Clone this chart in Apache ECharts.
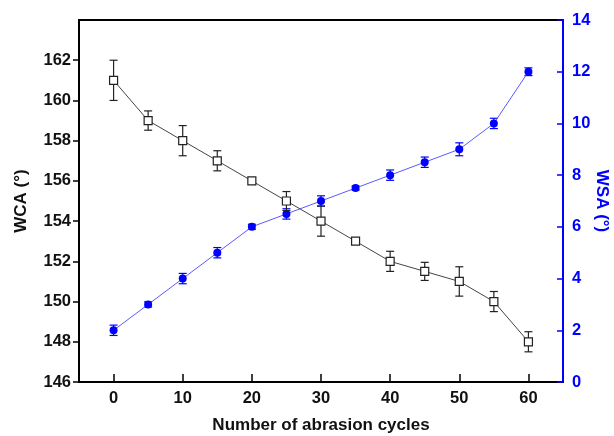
<!DOCTYPE html>
<html><head><meta charset="utf-8">
<script src="https://cdn.jsdelivr.net/npm/echarts@6/dist/echarts.min.js"></script>
<style>html,body{margin:0;padding:0;background:#fff}#c{width:614px;height:436px}</style>
</head><body><div id="c"></div>
<script>
const cycles = [0, 5, 10, 15, 20, 25, 30, 35, 40, 45, 50, 55, 60];
const wca = [161, 159, 158, 157, 156, 155, 154, 153, 152, 151.5, 151, 150, 148];
const wcaErr = [1, 0.48, 0.75, 0.5, 0.05, 0.47, 0.75, 0.05, 0.5, 0.45, 0.73, 0.5, 0.5];
const wsa = [2, 3, 4, 5, 6, 6.5, 7, 7.5, 8, 8.5, 9, 10, 12];
const wsaErr = [0.2, 0.1, 0.2, 0.2, 0.1, 0.2, 0.2, 0.08, 0.2, 0.2, 0.25, 0.2, 0.15];
const xTicks = [0, 10, 20, 30, 40, 50, 60];

const FONT = 'Liberation Sans';
const chart = echarts.init(document.getElementById('c'));

function errRender(color) {
  return function (params, api) {
    const x = api.value(0);
    const lo = api.coord([x, api.value(1)]);
    const hi = api.coord([x, api.value(2)]);
    const w = 4;
    const st = { stroke: color, lineWidth: 1.2 };
    return {
      type: 'group',
      children: [
        { type: 'line', shape: { x1: lo[0], y1: lo[1], x2: hi[0], y2: hi[1] }, style: st },
        { type: 'line', shape: { x1: lo[0] - w, y1: lo[1], x2: lo[0] + w, y2: lo[1] }, style: st },
        { type: 'line', shape: { x1: hi[0] - w, y1: hi[1], x2: hi[0] + w, y2: hi[1] }, style: st }
      ]
    };
  };
}

chart.setOption({
  animation: false,
  grid: { left: 79, right: 51, top: 20, bottom: 54, containLabel: false, outerBoundsMode: 'none', show: true, borderColor: '#000', borderWidth: 2, backgroundColor: 'transparent' },
  xAxis: {
    type: 'value', min: -5, max: 65,
    name: 'Number of abrasion cycles', nameLocation: 'middle', nameGap: 35, nameMoveOverlap: false,
    nameTextStyle: { fontFamily: FONT, fontWeight: 'bold', fontSize: 17, color: '#111' },
    axisLine: { onZero: false, lineStyle: { color: '#000', width: 2 } },
    axisTick: { inside: true, length: 8, lineStyle: { color: '#000', width: 1.5 }, customValues: xTicks },
    axisLabel: { customValues: xTicks, fontFamily: FONT, fontWeight: 'bold', fontSize: 16.5, color: '#111', margin: 8 },
    splitLine: { show: false }
  },
  yAxis: [
    {
      type: 'value', min: 146, max: 164, interval: 2, position: 'left',
      name: 'WCA (°)', nameLocation: 'middle', nameGap: 49, nameRotate: 90, nameMoveOverlap: false,
      nameTextStyle: { fontFamily: FONT, fontWeight: 'bold', fontSize: 17, color: '#111' },
      axisLine: { show: true, onZero: false, lineStyle: { color: '#000', width: 2 } },
      axisTick: { show: true, inside: false, length: 6, lineStyle: { color: '#000', width: 1.5 } },
      axisLabel: { fontFamily: FONT, fontWeight: 'bold', fontSize: 16.5, color: '#111', margin: 8, showMaxLabel: false },
      splitLine: { show: false }
    },
    {
      type: 'value', min: 0, max: 14, interval: 2, position: 'right',
      name: 'WSA (°)', nameLocation: 'middle', nameGap: 30, nameRotate: -90, nameMoveOverlap: false,
      nameTextStyle: { fontFamily: FONT, fontWeight: 'bold', fontSize: 17, color: '#0000ff' },
      axisLine: { show: true, onZero: false, lineStyle: { color: '#0000ff', width: 2 } },
      axisTick: { show: true, inside: true, length: 6, lineStyle: { color: '#0000ff', width: 1.5 } },
      axisLabel: { fontFamily: FONT, fontWeight: 'bold', fontSize: 16.5, color: '#0000ff', margin: 9 },
      splitLine: { show: false }
    }
  ],
  series: [
    {
      type: 'custom', yAxisIndex: 1, z: 2,
      renderItem: errRender('#0000ff'),
      data: cycles.map((c, i) => [c, wsa[i] - wsaErr[i], wsa[i] + wsaErr[i]])
    },
    {
      type: 'line', yAxisIndex: 1, z: 3,
      data: cycles.map((c, i) => [c, wsa[i]]),
      symbol: 'circle', symbolSize: 8,
      lineStyle: { color: '#5a5aff', width: 1 },
      itemStyle: { color: '#0000ff' }
    },
    {
      type: 'custom', yAxisIndex: 0, z: 4,
      renderItem: errRender('#222'),
      data: cycles.map((c, i) => [c, wca[i] - wcaErr[i], wca[i] + wcaErr[i]])
    },
    {
      type: 'line', yAxisIndex: 0, z: 5,
      data: cycles.map((c, i) => [c, wca[i]]),
      symbol: 'rect', symbolSize: 8,
      lineStyle: { color: '#444', width: 1 },
      itemStyle: { color: '#fff', borderColor: '#222', borderWidth: 1.2 }
    }
  ]
});
</script>
</body></html>
